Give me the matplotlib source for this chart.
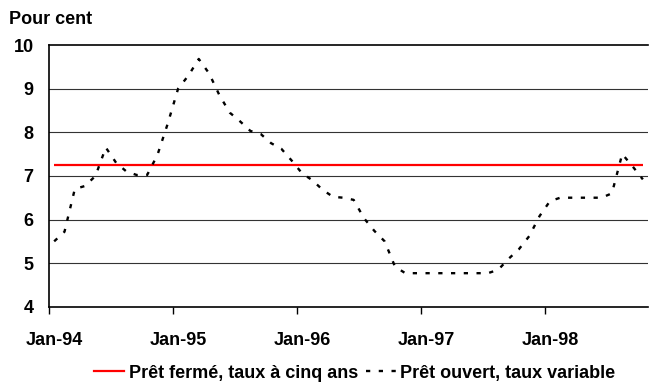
import matplotlib
matplotlib.use("Agg")
import matplotlib.pyplot as plt
from matplotlib.lines import Line2D

plt.rcParams['font.family'] = ['Liberation Sans', 'DejaVu Sans']
plt.rcParams['font.weight'] = 'bold'

# monthly data, Jan-94 .. Oct-98
months = list(range(58))
fixed_5yr = [7.26] * 58
variable = [5.50, 5.72, 6.70, 6.77, 7.00, 7.65, 7.30, 7.10, 7.02, 7.02,
            7.48, 8.20, 9.00, 9.30, 9.68, 9.35, 8.85, 8.45, 8.25, 8.03,
            7.96, 7.75, 7.62, 7.35, 7.06, 6.90, 6.68, 6.52, 6.50, 6.45,
            6.03, 5.74, 5.50, 4.92, 4.77, 4.77, 4.77, 4.77, 4.77, 4.77,
            4.77, 4.77, 4.77, 4.85, 5.10, 5.32, 5.62, 6.08, 6.42, 6.50,
            6.50, 6.50, 6.50, 6.50, 6.60, 7.50, 7.22, 6.92]
year_labels = ['Jan-94', 'Jan-95', 'Jan-96', 'Jan-97', 'Jan-98']
yticks = [4, 5, 6, 7, 8, 9, 10]

fs = 13

fig = plt.figure(figsize=(6.49, 3.83), dpi=100)
ax = fig.add_axes([0.0755, 0.199, 0.923, 0.6835])

x = [m + 0.5 for m in months]
ax.plot(x, fixed_5yr, color='#ff0000', lw=1.6, solid_capstyle='butt')
ax.plot(x, variable, color='black', lw=1.7, linestyle=(0, (1.8, 3.6)))

ax.set_xlim(0, 58)
ax.set_ylim(4, 10)
ax.set_yticks(yticks)
ax.set_yticklabels([str(v) for v in yticks], fontsize=fs, fontweight='bold')
ax.tick_params(axis='y', length=0, pad=11)
for v in yticks[1:-1]:
    ax.axhline(v, color='#333333', lw=0.8, zorder=0)

ax.set_xticks([0, 12, 24, 36, 48])
ax.set_xticklabels([])
ax.set_xticks([0.5, 12.5, 24.5, 36.5, 48.5], minor=True)
ax.set_xticklabels(year_labels, minor=True, fontsize=fs, fontweight='bold')
ax.tick_params(axis='x', which='major', length=5, width=1, direction='out')
ax.tick_params(axis='x', which='minor', length=0, pad=18)

for s in ['left', 'bottom', 'top']:
    ax.spines[s].set_linewidth(1.2)
ax.spines['right'].set_visible(False)

fig.text(0.014, 0.948, 'Pour cent', fontsize=fs, fontweight='bold', va='center')

handles = [Line2D([], [], color='#ff0000', lw=1.6),
           Line2D([], [], color='black', lw=1.7, linestyle=(0, (1.8, 3.6)))]
fig.legend(handles, ['Prêt fermé, taux à cinq ans', 'Prêt ouvert, taux variable'],
           loc='center', bbox_to_anchor=(0.547, 0.026), ncol=2, frameon=False,
           prop={'size': fs, 'weight': 'bold'}, handlelength=1.65,
           handletextpad=0.25, columnspacing=0.45, borderpad=0.1)

fig.savefig('out.png', dpi=100)
